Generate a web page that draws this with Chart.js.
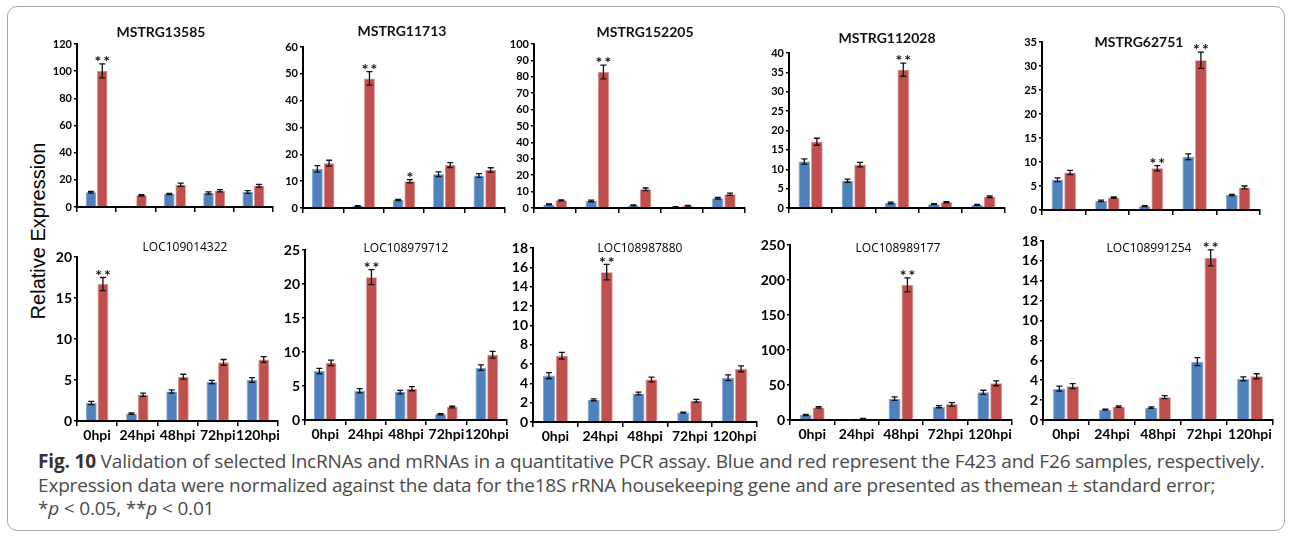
<!DOCTYPE html>
<html>
<head>
<meta charset="utf-8">
<script src="https://cdn.jsdelivr.net/npm/chart.js@4.4.0/dist/chart.umd.min.js"></script>
<style>
  body { margin: 0; background: #fff; width: 1290px; height: 536px; position: relative; overflow: hidden; font-family: Lato, sans-serif; }
  .frame { position: absolute; left: 7px; top: 6px; width: 1276px; height: 523px; border: 1px solid #a6a6a6; border-radius: 10px; }
  .panel { position: absolute; }
  .title { position: absolute; transform: translate(-50%, -50%); white-space: nowrap; color: #111; }
  .top { font: bold 14px Lato, sans-serif; }
  .bottom { font: 12px "Open Sans", sans-serif; color: #000; }
  .ylabel { position: absolute; left: 38px; top: 231px; transform: translate(-50%, -50%) rotate(-90deg); font: 20px "Liberation Sans", Arial, sans-serif; white-space: nowrap; color: #000; }
  .caption { position: absolute; left: 38px; top: 450px; font: 19px "Open Sans", sans-serif; letter-spacing: -0.17px; color: #4a4a4a; line-height: 23.5px; white-space: nowrap; }
  .caption b { color: #333; }
</style>
</head>
<body>
<div class="frame"></div>
<div class="ylabel">Relative Expression</div>
<div class="caption"><b>Fig. 10</b> Validation of selected lncRNAs and mRNAs in a quantitative PCR assay. Blue and red represent the F423 and F26 samples, respectively.<br>Expression data were normalized against the data for the18S rRNA housekeeping gene and are presented as themean ± standard error;<br>*<i>p</i> &lt; 0.05, **<i>p</i> &lt; 0.01</div>
<script>
// qPCR results, one row per gene
const timepoints = ['0hpi', '24hpi', '48hpi', '72hpi', '120hpi'];
const geneNames = ['MSTRG13585', 'MSTRG11713', 'MSTRG152205', 'MSTRG112028', 'MSTRG62751',
                   'LOC109014322', 'LOC108979712', 'LOC108987880', 'LOC108989177', 'LOC108991254'];

// F423 (blue)
const f423Means = [
  [10.8, 0, 9.6, 10.3, 11.0],
  [14.6, 0.7, 3.0, 12.6, 12.1],
  [2.2, 4.3, 1.6, 0.6, 5.9],
  [12.0, 7.05, 1.3, 1.0, 0.8],
  [6.3, 1.9, 0.8, 11.1, 3.1],
  [2.2, 0.9, 3.6, 4.75, 5.0],
  [7.2, 4.3, 4.1, 0.85, 7.7],
  [4.8, 2.3, 2.95, 0.97, 4.57],
  [7.1, 0, 30.5, 19, 39.5],
  [3.15, 1.04, 1.24, 5.87, 4.13]
];
const f423Errors = [
  [0.6, 0, 0.5, 0.8, 1.0],
  [1.2, 0.2, 0.2, 0.9, 0.7],
  [0.3, 0.5, 0.3, 0.2, 0.5],
  [0.7, 0.4, 0.2, 0.15, 0.1],
  [0.4, 0.15, 0.1, 0.6, 0.15],
  [0.2, 0.08, 0.2, 0.2, 0.3],
  [0.4, 0.3, 0.25, 0.08, 0.4],
  [0.3, 0.1, 0.15, 0.05, 0.3],
  [0.8, 0, 2.5, 1.5, 3],
  [0.25, 0.05, 0.08, 0.4, 0.2]
];

// F26 (red)
const f26Means = [
  [100.2, 8.6, 16.4, 12.0, 15.6],
  [16.7, 48.3, 10.0, 16.0, 14.2],
  [4.7, 82.9, 11.4, 1.4, 8.4],
  [17.1, 11.2, 35.7, 1.5, 2.9],
  [7.8, 2.6, 8.7, 31.2, 4.7],
  [16.7, 3.2, 5.4, 7.15, 7.5],
  [8.4, 21.0, 4.6, 1.9, 9.6],
  [6.85, 15.5, 4.4, 2.2, 5.5],
  [18, 1.9, 193, 22.4, 52.4],
  [3.4, 1.34, 2.3, 16.3, 4.4]
];
const f26Errors = [
  [5.1, 0.5, 1.2, 0.8, 1.0],
  [1.1, 2.5, 0.6, 0.9, 0.8],
  [0.3, 4.2, 0.8, 0.2, 0.7],
  [0.9, 0.6, 1.7, 0.15, 0.2],
  [0.45, 0.15, 0.55, 1.7, 0.3],
  [0.8, 0.2, 0.3, 0.35, 0.35],
  [0.4, 1.1, 0.3, 0.12, 0.5],
  [0.35, 0.8, 0.25, 0.15, 0.3],
  [1, 0.3, 10, 2.5, 3.5],
  [0.25, 0.08, 0.15, 0.8, 0.25]
];
const f26Marks = [
  ['**', '', '', '', ''],
  ['', '**', '*', '', ''],
  ['', '**', '', '', ''],
  ['', '', '**', '', ''],
  ['', '', '**', '**', ''],
  ['**', '', '', '', ''],
  ['', '**', '', '', ''],
  ['', '**', '', '', ''],
  ['', '', '**', '', ''],
  ['', '', '', '**', '']
];

const yMax = [120, 60, 100, 40, 35, 20, 25, 18, 250, 18];
const yStep = [20, 10, 10, 5, 5, 5, 5, 2, 50, 2];

// plot area of each panel on the page: [left, right, top, bottom]
const boxes = [
  [77, 273, 44, 207], [303, 505, 47, 208], [534, 745, 44, 208], [789, 1005, 53, 208], [1042, 1260, 42, 210],
  [77, 278, 257, 421], [305, 507, 250, 420], [533, 757, 248, 422], [790, 1012, 245, 420], [1043, 1273, 241, 420]
];
// title centres
const titlePos = [
  [161, 31], [402, 30], [645, 31], [887, 37], [1139, 41],
  [185, 246], [406, 247], [640, 247], [898, 247], [1149, 247]
];

const PAD_L = 50, PAD_T = 24, PAD_R = 30, PAD_B = 30;

const errorBars = {
  id: 'errorBars',
  afterDatasetsDraw(chart) {
    const ctx = chart.ctx;
    const y = chart.scales.y;
    ctx.save();
    chart.data.datasets.forEach((ds, i) => {
      const meta = chart.getDatasetMeta(i);
      meta.data.forEach((bar, j) => {
        const v = ds.data[j];
        const e = ds.errors[j];
        const top = y.getPixelForValue(v + e);
        const bot = y.getPixelForValue(Math.max(v - e, 0));
        ctx.strokeStyle = '#111';
        ctx.lineWidth = 1.3;
        ctx.beginPath();
        ctx.moveTo(bar.x, top); ctx.lineTo(bar.x, bot);
        ctx.moveTo(bar.x - 3, top); ctx.lineTo(bar.x + 3, top);
        ctx.moveTo(bar.x - 3, bot); ctx.lineTo(bar.x + 3, bot);
        ctx.stroke();
        if (ds.marks && ds.marks[j]) {
          ctx.fillStyle = '#111';
          ctx.font = 'bold 16px Lato, sans-serif';
          ctx.textAlign = 'center';
          ctx.textBaseline = 'bottom';
          ctx.letterSpacing = '2px';
          ctx.fillText(ds.marks[j], bar.x + 1, top + 6);
        }
      });
    });
    ctx.restore();
  }
};

geneNames.forEach((name, i) => {
  const [l, r, t, b] = boxes[i];
  const bottomRow = i >= 5;
  const w = r - l + PAD_L + PAD_R;
  const h = b - t + PAD_T + PAD_B;

  const wrap = document.createElement('div');
  wrap.className = 'panel';
  wrap.style.left = (l - PAD_L) + 'px';
  wrap.style.top = (t - PAD_T) + 'px';
  const canvas = document.createElement('canvas');
  canvas.width = w; canvas.height = h;
  canvas.style.width = w + 'px'; canvas.style.height = h + 'px';
  wrap.appendChild(canvas);
  document.body.appendChild(wrap);

  const title = document.createElement('div');
  title.className = 'title ' + (bottomRow ? 'bottom' : 'top');
  title.style.left = titlePos[i][0] + 'px';
  title.style.top = titlePos[i][1] + 'px';
  title.textContent = name;
  document.body.appendChild(title);

  const tickSize = bottomRow ? 14 : 11;

  new Chart(canvas, {
    type: 'bar',
    data: {
      labels: timepoints,
      datasets: [
        { label: 'F423', data: f423Means[i], errors: f423Errors[i], backgroundColor: '#4f81bd',
          borderColor: '#6f9bd0', borderWidth: 0.8, categoryPercentage: 0.58, barPercentage: 0.92 },
        { label: 'F26', data: f26Means[i], errors: f26Errors[i], marks: f26Marks[i], backgroundColor: '#c0504d',
          borderColor: '#d98a88', borderWidth: 0.8, categoryPercentage: 0.58, barPercentage: 0.92 }
      ]
    },
    options: {
      responsive: false,
      animation: false,
      layout: { padding: { left: 0, top: PAD_T, right: PAD_R, bottom: 0 } },
      plugins: { legend: { display: false }, tooltip: { enabled: false } },
      scales: {
        x: {
          offset: true,
          grid: { offset: true, drawOnChartArea: false, drawTicks: true, tickLength: 5, color: '#000', lineWidth: 1.5 },
          border: { color: '#000', width: 2 },
          ticks: { display: bottomRow, color: '#000', padding: 1, maxRotation: 0, autoSkip: false,
                   font: { family: 'Lato', size: 14, weight: 'bold' } },
          afterFit(s) { s.height = PAD_B; }
        },
        y: {
          min: 0, max: yMax[i],
          grid: { drawOnChartArea: false, drawTicks: true, tickLength: 3, color: '#000', lineWidth: 1.5 },
          border: { color: '#000', width: 2 },
          ticks: { stepSize: yStep[i], autoSkip: false, color: '#000', padding: 2,
                   font: { family: 'Lato', size: tickSize, weight: 'bold' } },
          afterFit(s) { s.width = PAD_L; }
        }
      }
    },
    plugins: [errorBars]
  });
});
</script>
</body>
</html>
